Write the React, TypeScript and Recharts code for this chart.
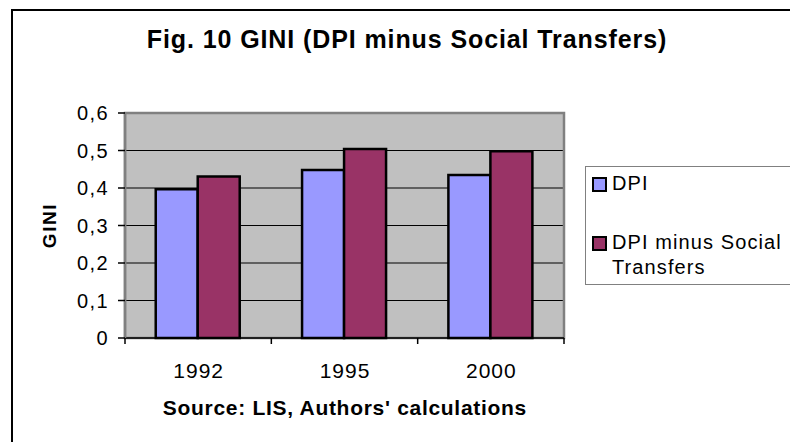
import { BarChart, Bar, XAxis, YAxis, CartesianGrid, ReferenceArea, Legend } from 'recharts';

// GINI by year
const years = ['1992', '1995', '2000'];
const dpi = [0.397, 0.448, 0.435];
const dpiMinusTransfers = [0.431, 0.504, 0.498];
const giniTicks = [0, 0.1, 0.2, 0.3, 0.4, 0.5, 0.6];
const seriesNames = ['DPI', 'DPI minus Social Transfers'];

const data = years.map((year, i) => ({ year, dpi: dpi[i], dpiMinus: dpiMinusTransfers[i] }));

const FONT = '"Liberation Sans", Arial, sans-serif';
const W = 790;
const H = 442;
const MARGIN = { top: 113, right: 226, bottom: 0, left: 0 };
const Y_AXIS_W = 125;
const X_AXIS_H = 104;
const X_TICK = 6;
const PLOT_W = W - MARGIN.right - MARGIN.left - Y_AXIS_W;

const fmt = (v: number) => (v === 0 ? '0' : v.toFixed(1).replace('.', ','));

function YearTick(props: any) {
  const { x, y, payload, index, visibleTicksCount } = props;
  const count = visibleTicksCount || years.length;
  const band = PLOT_W / count;
  const axisY = y - X_TICK;
  return (
    <g>
      <line x1={x - band / 2} x2={x - band / 2} y1={axisY} y2={axisY + X_TICK} stroke="#000" strokeWidth={1.5} />
      {index === count - 1 && (
        <line x1={x + band / 2} x2={x + band / 2} y1={axisY} y2={axisY + X_TICK} stroke="#000" strokeWidth={1.5} />
      )}
      <text x={x + 0.5} y={axisY + 39.5} textAnchor="middle" fontSize={21} letterSpacing={1} fill="#000" fontFamily={FONT}>
        {payload.value}
      </text>
    </g>
  );
}

function GiniTick(props: any) {
  const { x, y, payload } = props;
  return (
    <text x={x} y={y} dy={7} textAnchor="end" fontSize={20} letterSpacing={1.4} fill="#000" fontFamily={FONT}>
      {fmt(payload.value)}
    </text>
  );
}

function GiniLabel(props: any) {
  const vb = props.viewBox;
  if (!vb) return null;
  const cx = vb.x + 56;
  const cy = vb.y + vb.height / 2;
  return (
    <text x={cx} y={cy} transform={`rotate(-90, ${cx}, ${cy})`} textAnchor="middle" fontSize={19} fontWeight="bold" letterSpacing={1.6} fill="#000" fontFamily={FONT}>
      {props.value}
    </text>
  );
}

function SourceLabel(props: any) {
  const vb = props.viewBox;
  if (!vb) return null;
  return (
    <text x={vb.x + vb.width / 2 + 0.4} y={vb.y + 77} textAnchor="middle" fontSize={21} fontWeight="bold" letterSpacing={0.7} fill="#000" fontFamily={FONT}>
      {props.value}
    </text>
  );
}

const swatchTops = [10, 69];
const textTops = [4, 63];

function LegendBox(props: any) {
  const payload = props.payload || [];
  return (
    <div
      style={{
        position: 'relative',
        width: 205,
        height: 119,
        boxSizing: 'border-box',
        border: '1px solid #808080',
        borderRight: 'none',
        background: '#fff',
        fontFamily: FONT,
      }}
    >
      {payload.map((entry: any, i: number) => (
        <div key={entry.value}>
          <div
            style={{
              position: 'absolute',
              left: 6,
              top: swatchTops[i],
              width: 15,
              height: 15,
              boxSizing: 'border-box',
              border: '2px solid #000',
              background: entry.color,
            }}
          />
          <div
            style={{
              position: 'absolute',
              left: 26,
              top: textTops[i],
              width: 177,
              fontSize: 20,
              lineHeight: '25px',
              letterSpacing: 1.1,
              color: '#000',
              textAlign: 'left',
            }}
          >
            {entry.value}
          </div>
        </div>
      ))}
    </div>
  );
}

export default function App() {
  return (
    <div style={{ position: 'absolute', left: 0, top: 0, width: W, height: H, background: '#fff', overflow: 'hidden', fontFamily: FONT }}>
      {/* outer frame, only top and left edges visible */}
      <div
        style={{
          position: 'absolute',
          left: 11,
          top: 9,
          width: W - 11,
          height: H - 9,
          boxSizing: 'border-box',
          borderLeft: '2px solid #000',
          borderTop: '2px solid #000',
        }}
      />
      <div
        style={{
          position: 'absolute',
          left: 24,
          top: 24,
          width: 766,
          textAlign: 'center',
          fontSize: 25,
          fontWeight: 'bold',
          lineHeight: '30px',
          letterSpacing: 0.9,
          color: '#000',
        }}
      >
        Fig. 10 GINI (DPI minus Social Transfers)
      </div>
      <div style={{ position: 'absolute', left: 0, top: 0 }}>
        <BarChart width={W} height={H} data={data} margin={MARGIN} barCategoryGap="21%" barGap={0}>
          <CartesianGrid vertical={false} fill="#C0C0C0" stroke="#000" strokeWidth={1} />
          <ReferenceArea y1={0} y2={0.6} fill="none" stroke="#808080" strokeWidth={2.5} ifOverflow="visible" />
          <XAxis
            dataKey="year"
            height={X_AXIS_H}
            interval={0}
            axisLine={{ stroke: '#000', strokeWidth: 1.5 }}
            tickLine={false}
            tickSize={X_TICK}
            tickMargin={0}
            tick={<YearTick />}
            label={{ value: "Source: LIS, Authors' calculations", content: SourceLabel }}
          />
          <YAxis
            width={Y_AXIS_W}
            domain={[0, 0.6]}
            ticks={giniTicks}
            interval={0}
            axisLine={{ stroke: '#808080', strokeWidth: 2.5 }}
            tickLine={{ stroke: '#000', strokeWidth: 1.5 }}
            tickSize={7}
            tickMargin={9}
            tick={<GiniTick />}
            label={{ value: 'GINI', content: GiniLabel }}
          />
          <Bar dataKey="dpi" name={seriesNames[0]} fill="#9999FF" stroke="#000" strokeWidth={2.5} isAnimationActive={false} />
          <Bar dataKey="dpiMinus" name={seriesNames[1]} fill="#993366" stroke="#000" strokeWidth={2.5} isAnimationActive={false} />
          <Legend
            layout="horizontal"
            align="center"
            verticalAlign="middle"
            content={LegendBox}
            wrapperStyle={{ left: 585, top: 166, width: 205, height: 119 }}
          />
        </BarChart>
      </div>
    </div>
  );
}
